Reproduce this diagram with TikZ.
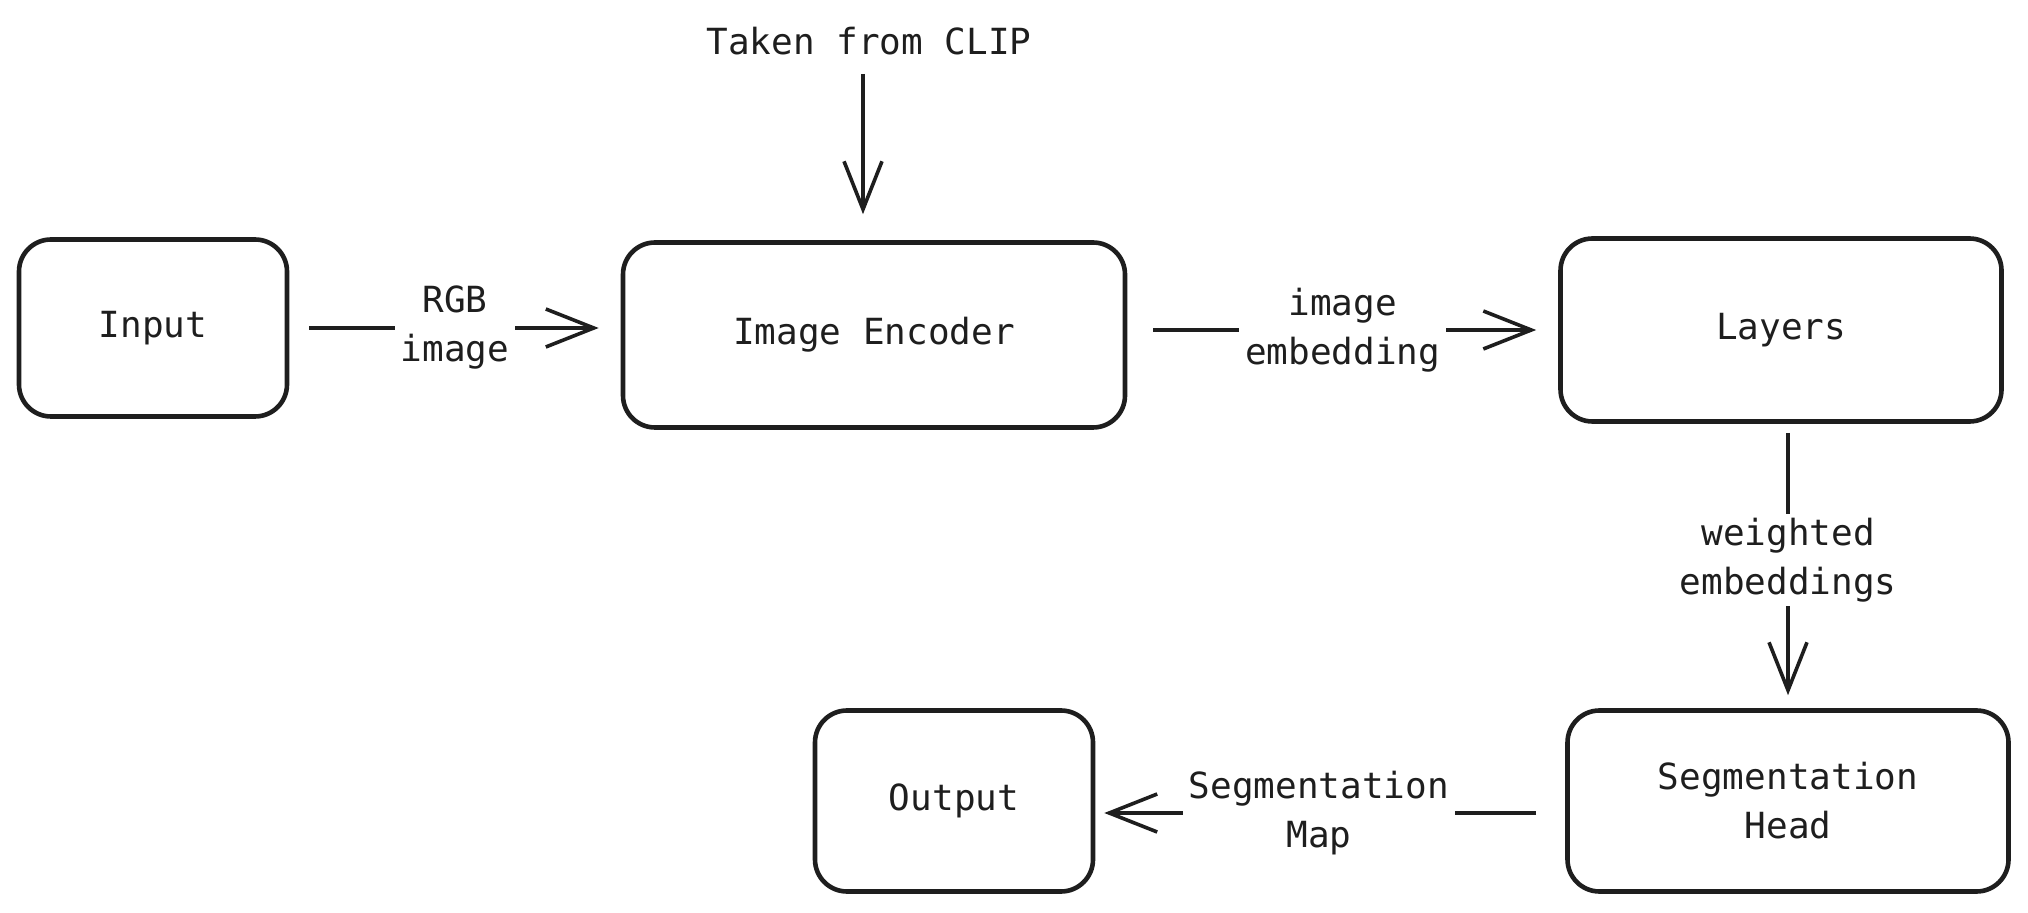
\documentclass[tikz,border=0pt]{standalone}
\usepackage{fontspec}
\setmonofont{DejaVu Sans Mono}
\usetikzlibrary{arrows.meta}
\definecolor{ink}{HTML}{1E1E1E}
\begin{document}
\begin{tikzpicture}[x=0.5pt,y=-0.5pt,
  box/.style={draw=ink,line width=2.3pt,rounded corners=16pt,inner sep=0pt,
    font=\ttfamily\fontsize{18}{24.5}\selectfont,text=ink,align=center},
  lbl/.style={fill=white,inner xsep=3pt,inner ysep=2pt,text=ink,
    font=\ttfamily\fontsize{18}{24.5}\selectfont,align=center},
  conn/.style={draw=ink,line width=2.3pt,
    -{Straight Barb[length=24pt,width=19pt,line width=1.8pt]}}]
\useasboundingbox (0,0) rectangle (2028,913);
\node[box,minimum width=134pt,minimum height=88.5pt] (inp) at (153,328) {Input};
\node[box,minimum width=251pt,minimum height=92.5pt] (enc) at (874,335) {Image Encoder};
\node[box,minimum width=220.5pt,minimum height=91.5pt] (lay) at (1781,330) {Layers};
\node[box,minimum width=220.5pt,minimum height=90.5pt] (seg) at (1788,801) {Segmentation\\Head};
\node[box,minimum width=139pt,minimum height=90.5pt] (out) at (954,801) {Output};
\node[text=ink,font=\ttfamily\fontsize{18}{24.5}\selectfont] (clip) at (869,41) {Taken from CLIP};
\coordinate (cliptop) at (863,74);

\draw[conn,shorten >=13pt] (cliptop) -- (cliptop |- enc.north);
\draw[conn,shorten <=10pt,shorten >=11pt] (inp.east) -- (enc.west |- inp.east)
  node[lbl,midway] {RGB\\image};
\draw[conn,shorten <=13pt,shorten >=11pt] (lay.west -| enc.east) -- (lay.west)
  node[lbl,midway] {image\\embedding};
\draw[conn,shorten <=4.5pt,shorten >=6.5pt] (seg.north |- lay.south) -- (seg.north)
  node[lbl,pos=0.48] {weighted\\embeddings};
\draw[conn,shorten <=14.5pt,shorten >=4.5pt] ([yshift=-6pt]seg.west) -- ([yshift=-6pt]seg.west -| out.east)
  node[lbl,pos=0.524] {Segmentation\\Map};
\end{tikzpicture}
\end{document}
